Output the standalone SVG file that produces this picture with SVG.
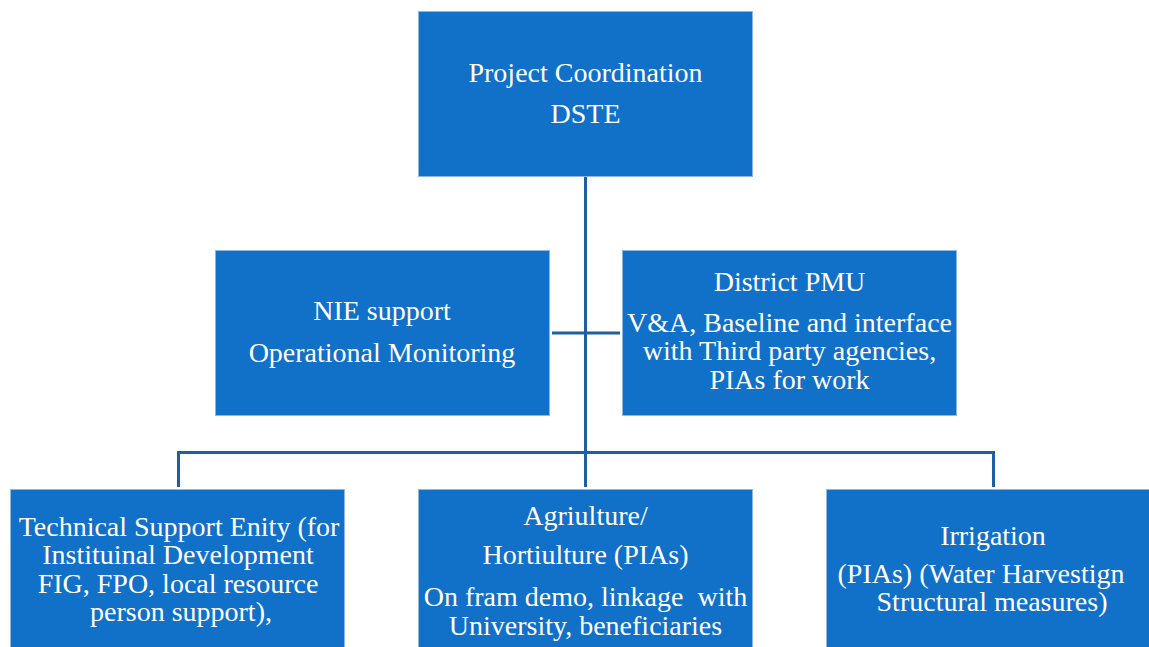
<svg xmlns="http://www.w3.org/2000/svg" width="1149" height="647" viewBox="0 0 1149 647">
<style>
.box{fill:#1170C8;stroke:#8DB8E6;stroke-width:1}
.t{font-family:"Liberation Serif","Times New Roman",serif;font-size:28px;fill:#FFFFFF;text-anchor:middle;white-space:pre}
.ln{fill:none;stroke:#1F5FA0;stroke-width:3}
</style>
<rect width="1149" height="647" fill="#FFFFFF"/>
<g id="connectors">
<path class="ln" d="M585.5 177 V452.5"/>
<path class="ln" d="M552 333 H620"/>
<path class="ln" d="M178.5 487 V452.5 H993.5 V487"/>
<path class="ln" d="M585.5 452.5 V487"/>
</g>
<g id="node-coordination">
<rect class="box" x="418.5" y="11.5" width="334" height="165"/>
<text class="t" x="585.5" y="82">Project Coordination</text>
<text class="t" x="585.5" y="123">DSTE</text>
</g>
<g id="node-nie">
<rect class="box" x="215.5" y="250.5" width="334" height="165"/>
<text class="t" x="382" y="320">NIE support</text>
<text class="t" x="382" y="362">Operational Monitoring</text>
</g>
<g id="node-pmu">
<rect class="box" x="622.5" y="250.5" width="334" height="165"/>
<text class="t" x="789.5" y="291">District PMU</text>
<text class="t" x="789.5" y="332">V&amp;A, Baseline and interface</text>
<text class="t" x="789.5" y="360">with Third party agencies,</text>
<text class="t" x="789.5" y="389">PIAs for work</text>
</g>
<g id="node-technical">
<rect class="box" x="10.5" y="489.5" width="334" height="170"/>
<text class="t" x="179" y="536">Technical Support Enity (for</text>
<text class="t" x="178" y="564">Instituinal Development</text>
<text class="t" x="178" y="593">FIG, FPO, local resource</text>
<text class="t" x="181" y="621">person support),</text>
</g>
<g id="node-agriculture">
<rect class="box" x="418.5" y="489.5" width="334" height="170"/>
<text class="t" x="585.5" y="525">Agriulture/</text>
<text class="t" x="585.5" y="564">Hortiulture (PIAs)</text>
<text class="t" x="585.5" y="606">On fram demo, linkage  with</text>
<text class="t" x="585.5" y="635">University, beneficiaries</text>
</g>
<g id="node-irrigation">
<rect class="box" x="826.5" y="489.5" width="334" height="170"/>
<text class="t" x="993" y="545">Irrigation</text>
<text class="t" x="981" y="583">(PIAs) (Water Harvestign</text>
<text class="t" x="992" y="611">Structural measures)</text>
</g>
</svg>
